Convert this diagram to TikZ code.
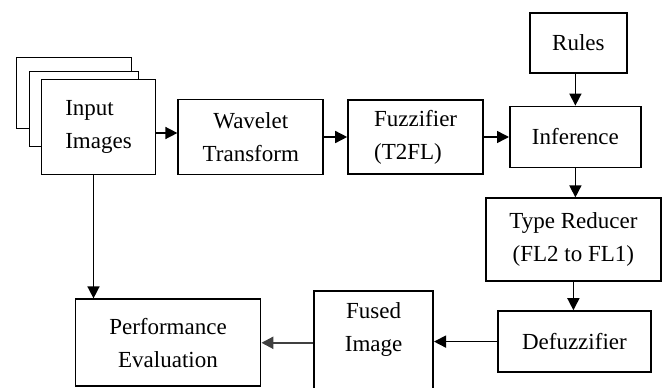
\documentclass[tikz,border=0pt]{standalone}
\usepackage{fontspec}
\setmainfont{Liberation Serif}
\usetikzlibrary{positioning, arrows.meta}
\tikzstyle{process} = [rectangle, draw=black, fill=white, line width=1.8pt, inner sep=0pt, align=center, font=\fontsize{23}{33}\selectfont]
\tikzstyle{arrow} = [line width=1.5pt, -{Triangle[length=12pt,width=12pt]}]
\tikzstyle{greyarrow} = [arrow, draw=black!75, line width=2.2pt]

\begin{document}
\begin{tikzpicture}
\clip (0,0) rectangle (662pt,-388pt);
\node (inpback) [process, minimum width=115pt, minimum height=71pt] at (74pt,-93pt) {};
\node (inpmid) [process, minimum width=109pt, minimum height=75pt] at (84pt,-109pt) {};
\node (input) [process, minimum width=114pt, minimum height=95pt, align=left] at (98.5pt,-127pt) {Input\\Images};
\node (wavelet) [process, minimum width=145pt, minimum height=75pt, right=21pt of input, yshift=-10pt] {Wavelet\\Transform};
\node (fuzzifier) [process, minimum width=135pt, minimum height=74pt, align=left, right=23pt of wavelet] {Fuzzifier\\(T2FL)};
\node (inference) [process, minimum width=131pt, minimum height=61pt, right=25pt of fuzzifier] {Inference};
\node (rules) [process, minimum width=97pt, minimum height=60pt, above=32pt of inference, xshift=3pt] {Rules};
\node (reducer) [process, minimum width=175pt, minimum height=83pt, below=29pt of inference, xshift=-2pt] {Type Reducer\\(FL2 to FL1)};
\node (defuzzifier) [process, minimum width=153pt, minimum height=61pt, below=28pt of reducer, xshift=1pt] {Defuzzifier};
\node (fused) [process, minimum width=119pt, inner ysep=11pt, text depth=50pt, left=63pt of defuzzifier.north west, anchor=north east, yshift=20pt] {Fused\\Image};
\node (perf) [process, minimum width=185pt, minimum height=87pt, below=123pt of input.south west, anchor=north west, xshift=34pt] {Performance\\Evaluation};

\draw [arrow] ([yshift=-6pt]input.east) -- ([yshift=-6pt]input.east -| wavelet.west);
\draw [arrow] (wavelet.east) -- (wavelet.east -| fuzzifier.west);
\draw [arrow] (fuzzifier.east) -- (fuzzifier.east -| inference.west);
\draw [arrow] (rules.south -| inference.north) -- (inference.north);
\draw [arrow] (inference.south) -- (inference.south |- reducer.north);
\draw [arrow] (reducer.south) -- (reducer.south |- defuzzifier.north);
\draw [arrow] (defuzzifier.west) -- (defuzzifier.west -| fused.east);
\draw [greyarrow] (perf.east -| fused.west) -- (perf.east);
\draw [arrow] ([xshift=-5pt]input.south) -- ([xshift=-5pt]input.south |- perf.north);
\end{tikzpicture}
\end{document}
